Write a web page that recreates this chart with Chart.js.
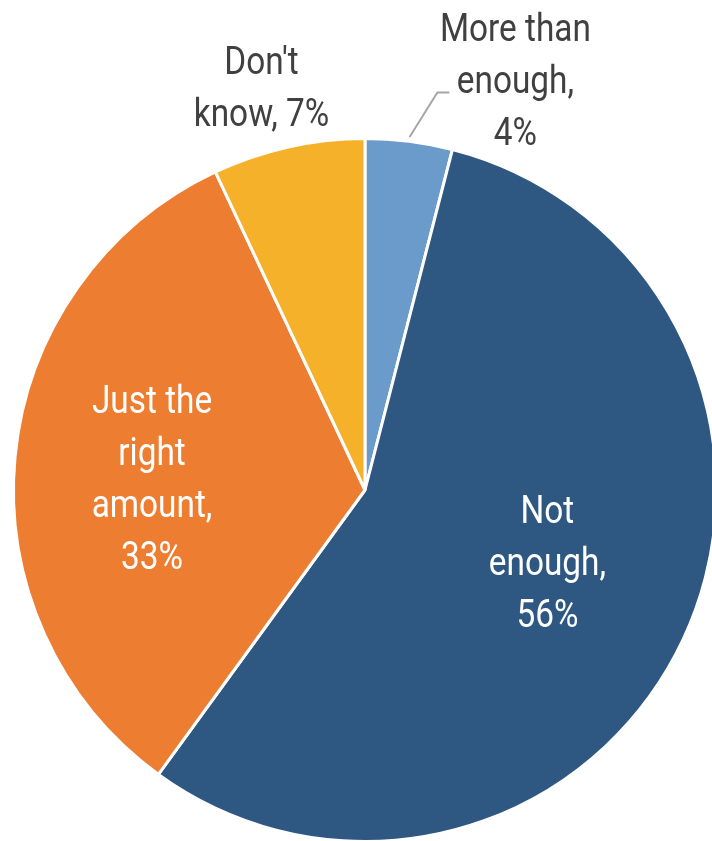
<!DOCTYPE html>
<html>
<head>
<meta charset="utf-8">
<script src="https://cdn.jsdelivr.net/npm/chart.js@4.4.0/dist/chart.umd.min.js"></script>
<style>
  html, body { margin: 0; padding: 0; background: #ffffff; overflow: hidden; }
  #wrap { width: 712px; height: 841px; position: relative; overflow: hidden; }
</style>
</head>
<body>
<div id="wrap"><canvas id="c" width="723" height="843"></canvas></div>
<script>
// ---- data ----
const categories = ["More than enough", "Not enough", "Just the right amount", "Don't know"];
const values = [4, 56, 33, 7];
const labelLines = [
  ["More than", "enough,", "4%"],
  ["Not", "enough,", "56%"],
  ["Just the", "right", "amount,", "33%"],
  ["Don't", "know, 7%"]
];
const colors = ["#6A9BCB", "#2E5882", "#ED7D31", "#F6B12B"];

// label placement (style): radial fraction and angle tweak (degrees) per slice
const labelPlace = [
  { frac: 1.245, dAng: 12.9, color: "#404040", leader: true },
  { frac: 0.557, dAng: -3.9, color: "#ffffff" },
  { frac: 0.607, dAng: -2.0, color: "#ffffff" },
  { frac: 1.184, dAng: -1.8, color: "#404040" }
];
const FONT_SIZE = 38;
const LINE_H = 52;
const FONT_FAMILY = "Roboto, 'Liberation Sans', sans-serif";
const REF_TEXT = "More than";
const REF_WIDTH = 151;

const labelPlugin = {
  id: 'pieLabels',
  afterDatasetsDraw(chart) {
    const ctx = chart.ctx;
    const meta = chart.getDatasetMeta(0);
    ctx.save();
    ctx.font = FONT_SIZE + "px " + FONT_FAMILY;
    ctx.textAlign = 'center';
    ctx.textBaseline = 'alphabetic';
    const sx = REF_WIDTH / ctx.measureText(REF_TEXT).width;
    const capH = FONT_SIZE * 0.71;
    meta.data.forEach((arc, i) => {
      const p = arc.getProps(['x', 'y', 'startAngle', 'endAngle', 'outerRadius'], true);
      const mid = (p.startAngle + p.endAngle) / 2 + labelPlace[i].dAng * Math.PI / 180;
      const r = p.outerRadius * labelPlace[i].frac;
      const cx = p.x + Math.cos(mid) * r;
      const cy = p.y + Math.sin(mid) * r;
      const lines = labelLines[i];
      const n = lines.length;
      const blockH = (n - 1) * LINE_H + capH;
      const firstBase = cy - blockH / 2 + capH;
      ctx.fillStyle = labelPlace[i].color;
      lines.forEach((t, k) => {
        ctx.save();
        ctx.translate(cx, firstBase + k * LINE_H);
        ctx.scale(sx, 1);
        ctx.fillText(t, 0, 0);
        ctx.restore();
      });
      if (labelPlace[i].leader) {
        const m0 = (p.startAngle + p.endAngle) / 2;
        const x0 = p.x + Math.cos(m0) * p.outerRadius * 1.012;
        const y0 = p.y + Math.sin(m0) * p.outerRadius * 1.012;
        const ey = firstBase + LINE_H;
        const ex = cx - 78;
        ctx.strokeStyle = '#A6A6A6';
        ctx.lineWidth = 2;
        ctx.beginPath();
        ctx.moveTo(x0, y0);
        ctx.lineTo(ex, ey);
        ctx.lineTo(ex + 12, ey);
        ctx.stroke();
      }
    });
    ctx.restore();
  }
};

new Chart(document.getElementById('c'), {
  type: 'pie',
  data: {
    labels: categories,
    datasets: [{
      data: values,
      backgroundColor: colors,
      borderColor: '#ffffff',
      borderWidth: 3
    }]
  },
  options: {
    responsive: false,
    animation: false,
    layout: { padding: { left: 12, right: 5, top: 137, bottom: 0 } },
    plugins: {
      legend: { display: false },
      tooltip: { enabled: false }
    }
  },
  plugins: [labelPlugin]
});
</script>
</body>
</html>
